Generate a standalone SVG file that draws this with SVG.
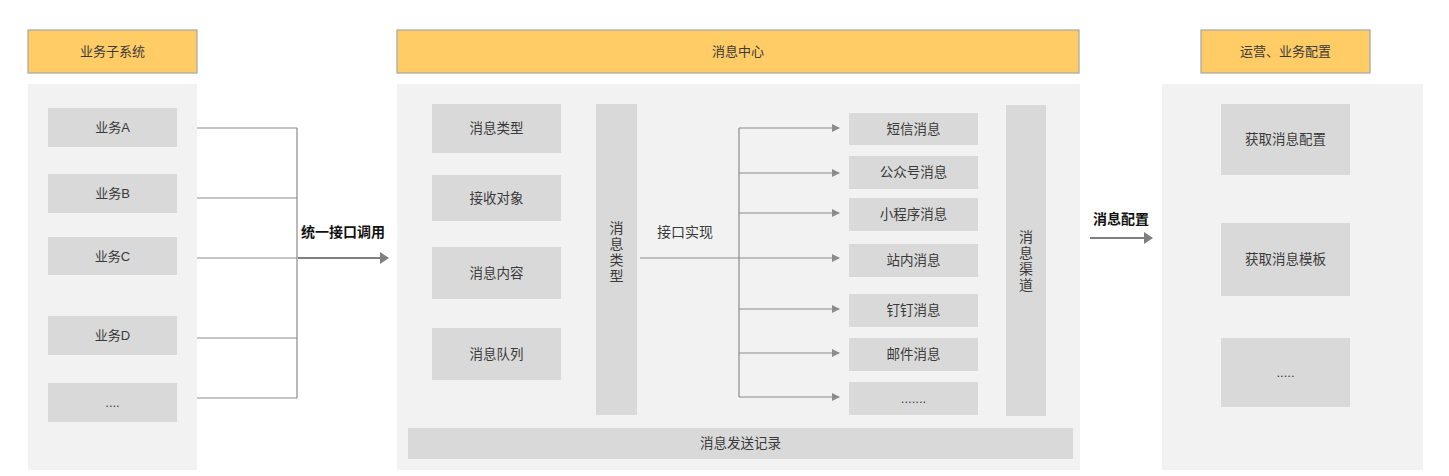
<svg xmlns="http://www.w3.org/2000/svg" width="1449" height="476" viewBox="0 0 1449 476">
<defs>
<style>
text{font-family:"Liberation Sans","Noto Sans CJK SC",sans-serif;font-size:13px;fill:#3a3a3a;text-anchor:middle;dominant-baseline:central}
.hdr{fill:#FFCC66;stroke:#A6A6A6;stroke-width:1.2}
.panel{fill:#F2F2F2}
.box{fill:#D9D9D9}
.lbl{font-weight:bold;fill:#111;font-size:14px}
.vt{font-size:14px}
.mid{font-size:13.5px}
.ln{fill:none;stroke:#8C8C8C;stroke-width:1.2}
.big{fill:none;stroke:#7F7F7F;stroke-width:2}
</style>
<marker id="ah" markerWidth="8" markerHeight="8" refX="7" refY="4" orient="auto" markerUnits="userSpaceOnUse"><path d="M0,0 L8,4 L0,8 Z" fill="#8C8C8C"/></marker>
<marker id="ahb" markerWidth="9" markerHeight="12" refX="8" refY="6" orient="auto" markerUnits="userSpaceOnUse"><path d="M0,0 L9,6 L0,12 Z" fill="#7F7F7F"/></marker>
</defs>
<rect width="1449" height="476" fill="#fff"/>

<g id="col-left">
<rect class="panel" x="28" y="84" width="169" height="386"/>
<rect class="hdr" x="28" y="30" width="169" height="43"/>
<text x="112.5" y="51.5">业务子系统</text>
</g>
<g id="bizA"><rect class="box" x="48" y="108" width="129" height="39"/><text x="112.5" y="127.5">业务A</text></g>
<g id="bizB"><rect class="box" x="48" y="174" width="129" height="39"/><text x="112.5" y="193.5">业务B</text></g>
<g id="bizC"><rect class="box" x="48" y="237" width="129" height="38"/><text x="112.5" y="256">业务C</text></g>
<g id="bizD"><rect class="box" x="48" y="316" width="129" height="39"/><text x="112.5" y="335.5">业务D</text></g>
<g id="bizMore"><rect class="box" x="48" y="383" width="129" height="39"/><text x="112.5" y="402.5">....</text></g>

<g id="col-center">
<rect class="panel" x="397" y="84" width="683" height="386"/>
<rect class="hdr" x="397" y="30" width="682" height="43"/>
<text x="738" y="51.5">消息中心</text>
</g>
<g id="msgType"><rect class="box" x="432" y="104" width="129" height="49"/><text class="mid" x="496.5" y="128.5">消息类型</text></g>
<g id="receiver"><rect class="box" x="432" y="175" width="129" height="46"/><text class="mid" x="496.5" y="198">接收对象</text></g>
<g id="content"><rect class="box" x="432" y="247" width="129" height="52"/><text class="mid" x="496.5" y="273">消息内容</text></g>
<g id="queue"><rect class="box" x="432" y="328" width="129" height="52"/><text class="mid" x="496.5" y="354">消息队列</text></g>
<g id="typeBar"><rect class="box" x="596" y="104" width="41" height="311"/>
<text class="vt" x="616.5" y="228">消</text><text class="vt" x="616.5" y="244">息</text><text class="vt" x="616.5" y="260">类</text><text class="vt" x="616.5" y="276">型</text></g>
<g id="sms"><rect class="box" x="849" y="113" width="129" height="32"/><text class="mid" x="913.5" y="129">短信消息</text></g>
<g id="mp"><rect class="box" x="849" y="156" width="129" height="33"/><text class="mid" x="913.5" y="172.5">公众号消息</text></g>
<g id="mini"><rect class="box" x="849" y="198" width="129" height="33"/><text class="mid" x="913.5" y="214.5">小程序消息</text></g>
<g id="inner"><rect class="box" x="849" y="244" width="129" height="33"/><text class="mid" x="913.5" y="260.5">站内消息</text></g>
<g id="ding"><rect class="box" x="849" y="294" width="129" height="33"/><text class="mid" x="913.5" y="310.5">钉钉消息</text></g>
<g id="mail"><rect class="box" x="849" y="338" width="129" height="33"/><text class="mid" x="913.5" y="354.5">邮件消息</text></g>
<g id="chMore"><rect class="box" x="849" y="382" width="129" height="33"/><text x="913.5" y="398.5">.......</text></g>
<g id="chanBar"><rect class="box" x="1006" y="105" width="40" height="311"/>
<text class="vt" x="1026" y="237">消</text><text class="vt" x="1026" y="253">息</text><text class="vt" x="1026" y="269">渠</text><text class="vt" x="1026" y="285">道</text></g>
<g id="sendLog"><rect class="box" x="408" y="428" width="665" height="31"/><text class="mid" x="740.5" y="443.5">消息发送记录</text></g>

<g id="col-right">
<rect class="panel" x="1162" y="84" width="261" height="386"/>
<rect class="hdr" x="1201" y="30" width="169" height="43"/>
<text x="1285.5" y="51.5">运营、业务配置</text>
</g>
<g id="getCfg"><rect class="box" x="1221" y="104" width="129" height="71"/><text class="mid" x="1285.5" y="139.5">获取消息配置</text></g>
<g id="getTpl"><rect class="box" x="1221" y="223" width="129" height="73"/><text class="mid" x="1285.5" y="259.5">获取消息模板</text></g>
<g id="cfgMore"><rect class="box" x="1221" y="338" width="129" height="69"/><text x="1285.5" y="372.5">.....</text></g>

<g id="connectors">
<path class="ln" d="M197,128 H297 M197,198 H297 M197,258 H297 M197,338 H297 M197,398 H297 M297,128 V398"/>
<line class="big" x1="298" y1="258" x2="388" y2="258" marker-end="url(#ahb)"/>
<text class="lbl" x="343" y="232">统一接口调用</text>
<path class="ln" d="M640,258 H739 M739,128 V397"/>
<text class="vt" x="685" y="232">接口实现</text>
<line class="ln" x1="739" y1="128" x2="839" y2="128" marker-end="url(#ah)"/>
<line class="ln" x1="739" y1="173" x2="839" y2="173" marker-end="url(#ah)"/>
<line class="ln" x1="739" y1="213" x2="839" y2="213" marker-end="url(#ah)"/>
<line class="ln" x1="739" y1="258" x2="839" y2="258" marker-end="url(#ah)"/>
<line class="ln" x1="739" y1="309" x2="839" y2="309" marker-end="url(#ah)"/>
<line class="ln" x1="739" y1="353" x2="839" y2="353" marker-end="url(#ah)"/>
<line class="ln" x1="739" y1="397" x2="839" y2="397" marker-end="url(#ah)"/>
<line class="big" x1="1090" y1="238" x2="1152" y2="238" marker-end="url(#ahb)"/>
<text class="lbl" x="1121" y="219">消息配置</text>
</g>
</svg>
